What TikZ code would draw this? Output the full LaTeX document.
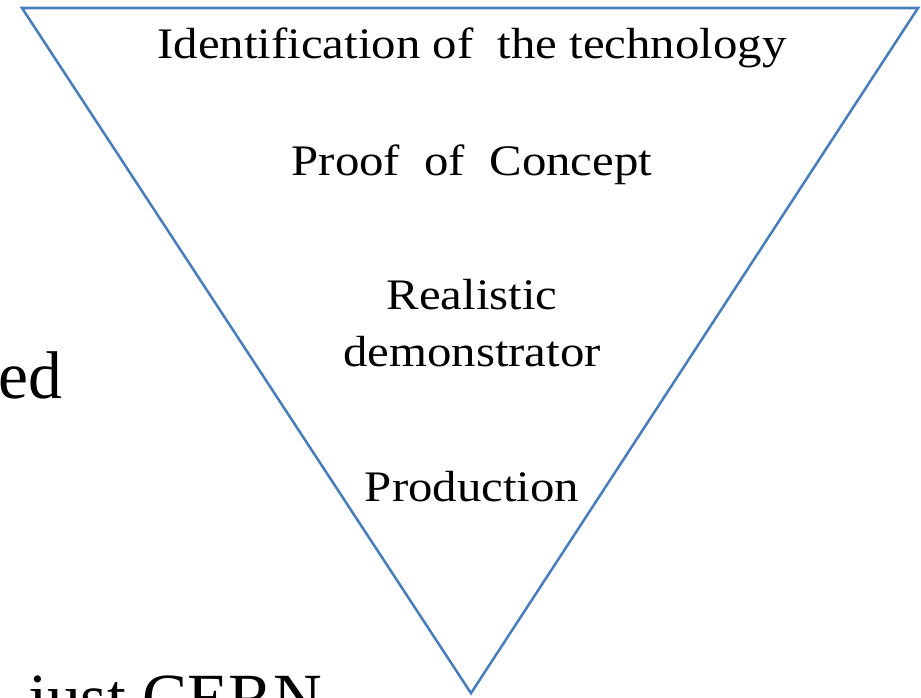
\documentclass[tikz,border=0pt]{standalone}
\usepackage{fontspec}
\setmainfont{Liberation Serif}
\newfontfamily\stagefont[FakeStretch=1.12]{Liberation Serif}
\usetikzlibrary{positioning}

\definecolor{trianglecol}{HTML}{4A7EBB}

\begin{document}
\begin{tikzpicture}[
    every node/.style={inner sep=0pt},
    stage/.style={align=center, anchor=center, font=\stagefont\fontsize{31}{40.5}\selectfont},
    sidetext/.style={font=\fontsize{48}{56}\selectfont, anchor=base west},
    funnel/.style={draw=trianglecol, line width=1.8pt, line join=miter}
]
\useasboundingbox (0,0) rectangle (23.025,-17.425);
\clip (0,0) rectangle (23.025,-17.425);

% Corners
\coordinate (topleft) at (0.55,-0.2);
\coordinate (topright) at (22.95,-0.2);
\coordinate (tip) at (11.775,-17.33);

% Funnel
\draw[funnel] (topleft) -- (topright) -- (tip) -- cycle;

% Stages
\node[stage] (ident) at (11.8,-1.2) {Identification of~ the technology};
\node[stage] (poc) at (11.8,-4.12) {Proof~ of~ Concept};
\node[stage] (demo) at (11.8,-8.075) {Realistic\\demonstrator};
\node[stage] (prod) at (11.8,-12.175) {Production};

% Slide text
\node[sidetext] (lefttext) at (-0.05,-9.95) {ed};
\node[sidetext] (bottomtext) at (0.7,-18.0) {just CERN};

\end{tikzpicture}
\end{document}
